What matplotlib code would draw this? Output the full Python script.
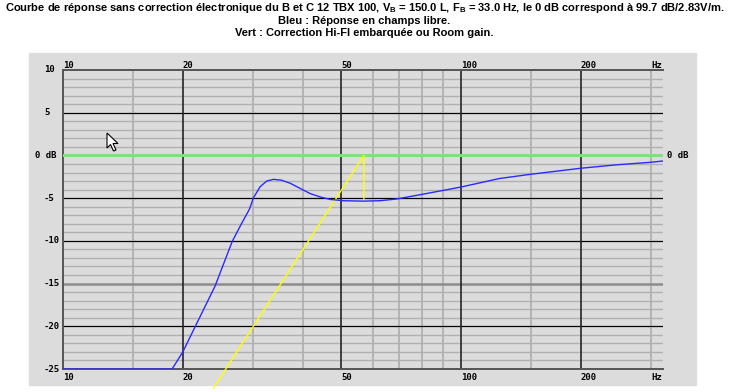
import matplotlib
matplotlib.use("Agg")
import matplotlib.pyplot as plt
from matplotlib.patches import Rectangle, Polygon

# Données
freq_bleu = [10, 18.8, 20.0, 21.4, 24.1, 26.6, 28.0, 29.4, 30.1, 31.3, 32.5, 33.8, 35.4, 37.2,
             39.4, 41.7, 44.2, 46.9, 50.6, 56.8, 62.6, 68.9, 78.9, 100, 125, 150, 200,
             246, 300, 322]
db_bleu = [-25, -25, -23.0, -20.2, -15.3, -10.1, -8.1, -6.3, -4.95, -3.65, -3.0, -2.8, -2.9, -3.25,
           -3.85, -4.45, -4.85, -5.15, -5.3, -5.35, -5.3, -5.1, -4.6, -3.7, -2.7, -2.2, -1.5,
           -1.1, -0.8, -0.65]

freq_jaune = [23.9, 57, 57]
db_jaune = [-27.2, 0, -5.3]

freq_labels = [10, 20, 50, 100, 200, 300]
freq_texts = ["10", "20", "50", "100", "200", "Hz"]
freq_majeures = [20, 50, 100, 200]
freq_mineures = [15, 30, 40, 60, 70, 80, 90, 150, 300]

db_labels = [10, 5, 0, -5, -10, -15, -20, -25]
db_texts = ["10", "5", "0 dB", "-5", "-10", "-15", "-20", "-25"]
db_noirs = [5, -5, -10, -20]

titre = ("Courbe de réponse sans correction électronique du B et C 12 TBX 100, "
         "V$_\\mathregular{B}$ = 150.0 L, F$_\\mathregular{B}$ = 33.0 Hz, "
         "le 0 dB correspond à 99.7 dB/2.83V/m.")
ligne2 = "Bleu : Réponse en champs libre."
ligne3 = "Vert : Correction Hi-FI embarquée ou Room gain."

W, H = 729, 392
gris = "#dcdcdc"

fig = plt.figure(figsize=(W / 100, H / 100), dpi=100)
fig.patch.set_facecolor("white")

# fond gris du cadre
fig.patches.append(Rectangle((29 / W, 1 - 385 / H), (696 - 29) / W, (385 - 53) / H,
                             transform=fig.transFigure, color=gris, zorder=-5))

ax = fig.add_axes([63 / W, 1 - 369 / H, 600 / W, 299 / H])
ax.set_zorder(2)
ax.set_facecolor(gris)
ax.set_xscale("log")
ax.set_xlim(10, 321.7)
ax.set_ylim(-25, 10)
ax.set_xticks([])
ax.set_yticks([])
ax.minorticks_off()
ax.tick_params(which="both", length=0, labelbottom=False, labelleft=False)

# grille horizontale
for d in range(-24, 10):
    if d % 5 != 0:
        ax.axhline(d, color="#b0b0b0", lw=1.0, zorder=1)
for d in db_noirs:
    ax.axhline(d, color="black", lw=0.9, zorder=2)
ax.axhline(-15, color="#8c8c8c", lw=1.8, zorder=2)

# grille verticale
for f in freq_mineures:
    ax.axvline(f, color="#b0b0b0", lw=1.3, zorder=1)
for f in freq_majeures:
    ax.axvline(f, color="#252525", lw=1.2, zorder=2)

for s in ["left", "top", "bottom"]:
    ax.spines[s].set_color("#555555")
    ax.spines[s].set_linewidth(1.4)
ax.spines["right"].set_visible(False)

# ligne 0 dB verte
ax.axhline(0, color="#80e080", lw=2.2, zorder=3)

ax.plot(freq_jaune, db_jaune, color="#ffff00", lw=1.0, zorder=4, clip_on=False)
ax.plot(freq_bleu, db_bleu, color="#2a2aff", lw=1.0, zorder=5)

police = dict(family="DejaVu Sans Mono", fontweight="bold", fontsize=6.5, color="black")

tx = ax.get_xaxis_transform()
for f, t in zip(freq_labels, freq_texts):
    ax.text(f, 1 + 4.3 / 299, t, transform=tx, ha="left", va="center", **police)
    ax.text(f, -8.7 / 299, t, transform=tx, ha="left", va="center", **police)

ty = ax.get_yaxis_transform()
for d, t in zip(db_labels, db_texts):
    x0 = 35 if t == "0 dB" else 44
    ax.text((x0 - 63) / 600, d, t, transform=ty, ha="left", va="center", **police)
ax.text((667 - 63) / 600, 0, "0 dB", transform=ty, ha="left", va="center", **police)

# titres
tfont = dict(family="Liberation Sans", fontweight="bold", fontsize=8.0, ha="center", va="center")
fig.text(0.5, 1 - 8 / H, titre, **tfont)
fig.text(0.5, 1 - 20.5 / H, ligne2, **tfont)
fig.text(0.5, 1 - 33 / H, ligne3, **tfont)

# curseur de souris visible sur la capture
pts = [(107, 133), (107, 148), (110.5, 144.5), (113.5, 151), (116, 150), (113, 143.5), (118, 143.5)]
fig.patches.append(Polygon([(x / W, 1 - y / H) for x, y in pts], closed=True,
                           transform=fig.transFigure, facecolor="white", edgecolor="black",
                           lw=0.8, zorder=10))

fig.savefig("out.png", dpi=100)
